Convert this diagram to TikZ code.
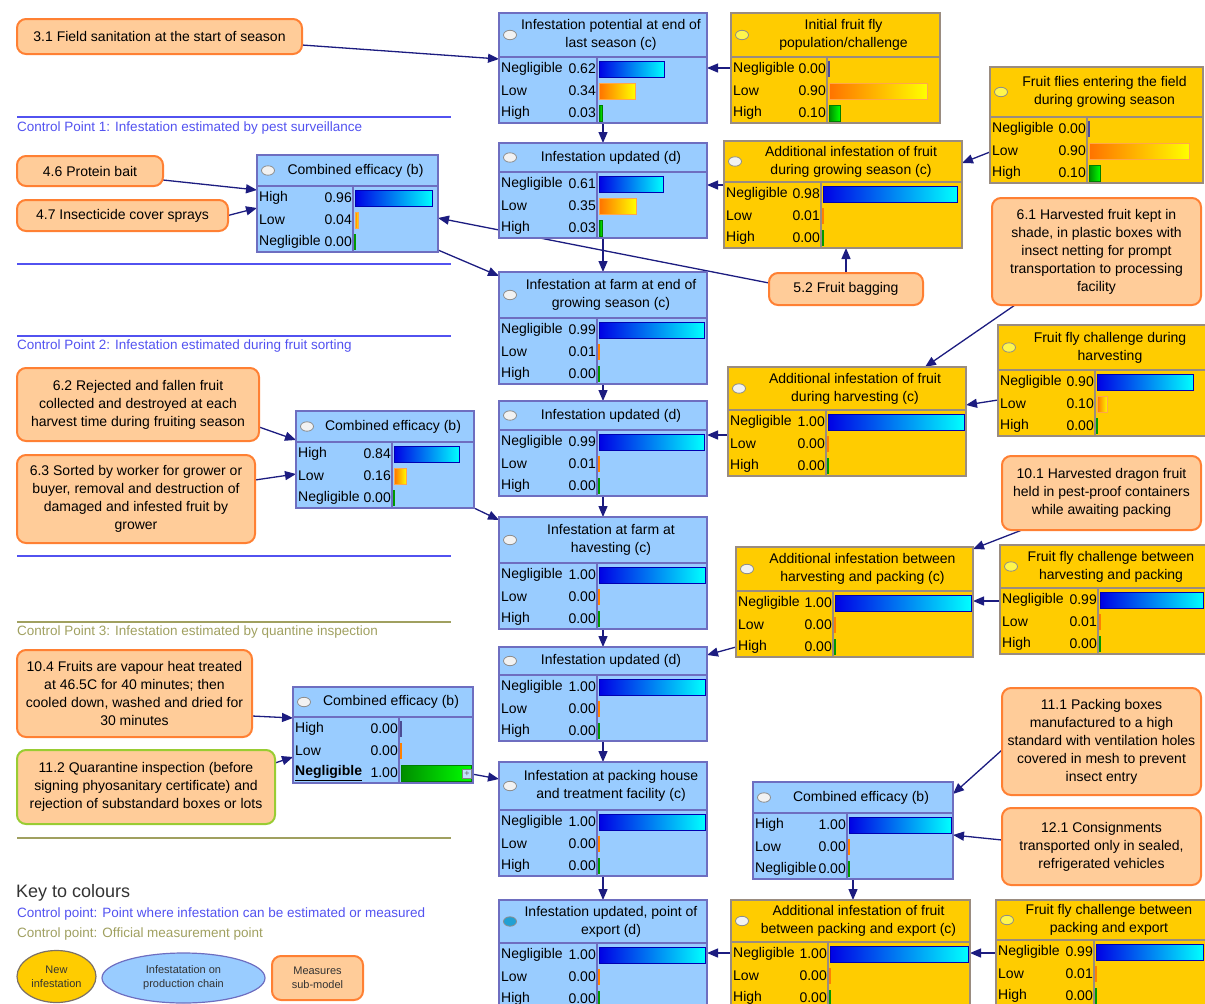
\documentclass[tikz,border=0pt]{standalone}
\usepackage{fontspec}
\setmainfont{Liberation Sans}
\usetikzlibrary{arrows.meta,calc,backgrounds}
\definecolor{bnblue}{HTML}{99CCFF}
\definecolor{bnyellow}{HTML}{FFCC00}
\definecolor{bnborderb}{HTML}{6E6EC0}
\definecolor{bnbordery}{HTML}{9A8C80}
\definecolor{mfill}{HTML}{FFCC99}
\definecolor{mborder}{HTML}{FF8033}
\definecolor{mgreen}{HTML}{99CC33}
\definecolor{arrowc}{HTML}{1C1C80}
\definecolor{cpblue}{HTML}{5252F0}
\definecolor{cpolive}{HTML}{A0A060}
\definecolor{keygray}{HTML}{333333}

\newcommand\bnbox[9]{% name, x, y, w, titleh, fill, border, circle, title
  \pgfmathsetmacro\bnH{#5+66}%
  \pgfmathsetmacro\cX{#2}%
  \pgfmathsetmacro\cR{#2+#4}%
  \pgfmathsetmacro\cTT{#3+#5}%
  \node[bnframe, draw=#7, fill=#6, minimum width=#4pt, minimum height=\bnH pt] (#1) at (#2,#3) {};
  \draw[bnsep, draw=#7] (\cX,\cTT) -- (\cR,\cTT);
  \draw[circ, fill=#8] (#2+11,#3+#5/2) ellipse [x radius=6.5pt, y radius=4.7pt];
  \node[ttext] at (#2+#4/2+8,#3+#5/2) {#9};
}
\newcommand\bntable[2]{% barx, border colour
  \pgfmathsetmacro\cB{#1}%
  \draw[bnsep, draw=#2] (\cB,\cTT) -- (\cB,\cTT+66);
}
\newcommand\bnrow[3]{% index, label, value
  \pgfmathsetmacro\bnry{\cTT+12+22*#1}%
  \node[rtext, anchor=west] at (\cX+2,\bnry) {#2};
  \node[rtext, anchor=east] at (\cB-1,\bnry) {#3};
  \pgfmathtruncatemacro\bnthin{#3<0.02}%
  \ifnum\bnthin=1
    \ifcase#1 \def\bnbc{thinblue}\or\def\bnbc{thinorange}\or\def\bnbc{thingreen}\fi
    \fill[\bnbc] (\cB+1,\bnry-8) rectangle (\cB+3,\bnry+8);
  \else
    \pgfmathsetmacro\bnlen{#3*(\cR-\cB-4)}%
    \ifcase#1 \def\bnbc{barblue}\or\def\bnbc{barorange}\or\def\bnbc{bargreen}\fi
    \path[\bnbc] (\cB+2,\bnry-8) rectangle (\cB+2+\bnlen,\bnry+8);
  \fi
}

\begin{document}
\begin{tikzpicture}[x=1pt,y=-1pt,
  bnframe/.style={draw, line width=1.3pt, inner sep=0pt, outer sep=0pt, anchor=north west},
  bnsep/.style={line width=1.1pt},
  circ/.style={draw=black!45, line width=0.8pt},
  ttext/.style={font=\fontsize{14}{18}\selectfont, align=center, inner sep=0pt},
  rtext/.style={font=\fontsize{14}{16}\selectfont, inner sep=0pt},
  barblue/.style={left color=blue!90!black, right color=cyan, draw=blue!70!black, line width=0.7pt},
  barorange/.style={left color=orange!90!red, right color=yellow, draw=orange!70, line width=0.7pt},
  bargreen/.style={left color=green!55!black, right color=green, draw=green!50!black, line width=0.5pt},
  thinblue/.style={fill=blue!40!black!70},
  thinorange/.style={fill=orange},
  thingreen/.style={fill=green!60!black},
  measure/.style={draw=mborder, fill=mfill, line width=2pt, rounded corners=9pt, align=center,
     font=\fontsize{14}{18}\selectfont, inner sep=0pt, outer sep=0pt, anchor=north west},
  arr/.style={draw=arrowc, line width=1.3pt, -{Triangle[length=11pt,width=9pt]}},
  cpline/.style={line width=1.5pt},
  cptext/.style={font=\fontsize{13.5}{16}\selectfont, anchor=west, inner sep=0pt},
]
\useasboundingbox (0,0) rectangle (1205,1004);
\clip (0,0) rectangle (1205,1004);

% ---------- separator lines and control point texts ----------
\draw[cpline, cpblue] (17,117) -- (451,117);
\node[cptext, text=cpblue] (cp1) at (17,128) {Control Point 1: Infestation estimated by pest surveillance};
\draw[cpline, cpblue] (17,264) -- (451,264);
\draw[cpline, cpblue] (17,336) -- (451,336);
\node[cptext, text=cpblue] (cp2) at (17,346) {Control Point 2: Infestation estimated during fruit sorting};
\draw[cpline, cpblue] (17,556) -- (451,556);
\draw[cpline, cpolive] (17,622) -- (451,622);
\node[cptext, text=cpolive] (cp3) at (17,632) {Control Point 3: Infestation estimated by quantine inspection};
\draw[cpline, cpolive] (17,838) -- (451,838);

% ---------- central chain ----------
\bnbox{A1}{499}{13}{208}{44}{bnblue}{bnborderb}{white!95!black}{Infestation potential at end of\\last season (c)}
\bntable{597}{bnborderb}
\bnrow{0}{Negligible}{0.62}\bnrow{1}{Low}{0.34}\bnrow{2}{High}{0.03}

\bnbox{A2}{499}{143}{208}{29}{bnblue}{bnborderb}{white!95!black}{Infestation updated (d)}
\bntable{597}{bnborderb}
\bnrow{0}{Negligible}{0.61}\bnrow{1}{Low}{0.35}\bnrow{2}{High}{0.03}

\bnbox{A3}{499}{272}{208}{46}{bnblue}{bnborderb}{white!95!black}{Infestation at farm at end of\\growing season (c)}
\bntable{597}{bnborderb}
\bnrow{0}{Negligible}{0.99}\bnrow{1}{Low}{0.01}\bnrow{2}{High}{0.00}

\bnbox{A4}{499}{401}{208}{29}{bnblue}{bnborderb}{white!95!black}{Infestation updated (d)}
\bntable{597}{bnborderb}
\bnrow{0}{Negligible}{0.99}\bnrow{1}{Low}{0.01}\bnrow{2}{High}{0.00}

\bnbox{A5}{499}{517}{208}{46}{bnblue}{bnborderb}{white!95!black}{Infestation at farm at\\havesting (c)}
\bntable{597}{bnborderb}
\bnrow{0}{Negligible}{1.00}\bnrow{1}{Low}{0.00}\bnrow{2}{High}{0.00}

\bnbox{A6}{499}{647}{208}{28}{bnblue}{bnborderb}{white!95!black}{Infestation updated (d)}
\bntable{597}{bnborderb}
\bnrow{0}{Negligible}{1.00}\bnrow{1}{Low}{0.00}\bnrow{2}{High}{0.00}

\bnbox{A7}{499}{762}{208}{48}{bnblue}{bnborderb}{white!95!black}{Infestation at packing house\\and treatment facility (c)}
\bntable{597}{bnborderb}
\bnrow{0}{Negligible}{1.00}\bnrow{1}{Low}{0.00}\bnrow{2}{High}{0.00}

\bnbox{A8}{499}{900}{208}{43}{bnblue}{bnborderb}{cyan!70!teal}{Infestation updated, point of\\export (d)}
\bntable{597}{bnborderb}
\bnrow{0}{Negligible}{1.00}\bnrow{1}{Low}{0.00}\bnrow{2}{High}{0.00}

% ---------- yellow nodes ----------
\bnbox{Y1}{731}{13}{209}{44}{bnyellow}{bnbordery}{yellow!70!white}{Initial fruit fly\\population/challenge}
\bntable{827}{bnbordery}
\bnrow{0}{Negligible}{0.00}\bnrow{1}{Low}{0.90}\bnrow{2}{High}{0.10}

\bnbox{Y2}{990}{67}{213}{50}{bnyellow}{bnbordery}{yellow!70!white}{Fruit flies entering the field\\during growing season}
\bntable{1087}{bnbordery}
\bnrow{0}{Negligible}{0.00}\bnrow{1}{Low}{0.90}\bnrow{2}{High}{0.10}

\bnbox{Y3}{724}{141}{238}{41}{bnyellow}{bnbordery}{white!95!black}{Additional infestation of fruit\\during growing season (c)}
\bntable{821}{bnbordery}
\bnrow{0}{Negligible}{0.98}\bnrow{1}{Low}{0.01}\bnrow{2}{High}{0.00}

\bnbox{Y4}{998}{325}{208}{45}{bnyellow}{bnbordery}{yellow!70!white}{Fruit fly challenge during\\harvesting}
\bntable{1095}{bnbordery}
\bnrow{0}{Negligible}{0.90}\bnrow{1}{Low}{0.10}\bnrow{2}{High}{0.00}

\bnbox{Y5}{728}{367}{238}{43}{bnyellow}{bnbordery}{white!95!black}{Additional infestation of fruit\\during harvesting (c)}
\bntable{826}{bnbordery}
\bnrow{0}{Negligible}{1.00}\bnrow{1}{Low}{0.00}\bnrow{2}{High}{0.00}

\bnbox{Y6}{1000}{545}{206}{43}{bnyellow}{bnbordery}{yellow!70!white}{Fruit fly challenge between\\harvesting and packing}
\bntable{1098}{bnbordery}
\bnrow{0}{Negligible}{0.99}\bnrow{1}{Low}{0.01}\bnrow{2}{High}{0.00}

\bnbox{Y7}{736}{547}{237}{44}{bnyellow}{bnbordery}{white!95!black}{Additional infestation between\\harvesting and packing (c)}
\bntable{833}{bnbordery}
\bnrow{0}{Negligible}{1.00}\bnrow{1}{Low}{0.00}\bnrow{2}{High}{0.00}

\bnbox{Y8}{731}{900}{239}{42}{bnyellow}{bnbordery}{white!95!black}{Additional infestation of fruit\\between packing and export (c)}
\bntable{828}{bnbordery}
\bnrow{0}{Negligible}{1.00}\bnrow{1}{Low}{0.00}\bnrow{2}{High}{0.00}

\bnbox{Y9}{996}{900}{210}{40}{bnyellow}{bnbordery}{yellow!70!white}{Fruit fly challenge between\\packing and export}
\bntable{1094}{bnbordery}
\bnrow{0}{Negligible}{0.99}\bnrow{1}{Low}{0.01}\bnrow{2}{High}{0.00}

% ---------- combined efficacy nodes ----------
\bnbox{C1}{257}{155}{181}{31}{bnblue}{bnborderb}{white!95!black}{Combined efficacy (b)}
\bntable{353}{bnborderb}
\bnrow{0}{High}{0.96}\bnrow{1}{Low}{0.04}\bnrow{2}{Negligible}{0.00}

\bnbox{C2}{296}{411}{178}{31}{bnblue}{bnborderb}{white!95!black}{Combined efficacy (b)}
\bntable{392}{bnborderb}
\bnrow{0}{High}{0.84}\bnrow{1}{Low}{0.16}\bnrow{2}{Negligible}{0.00}

\bnbox{C3}{293}{687}{180}{30}{bnblue}{bnborderb}{white!95!black}{Combined efficacy (b)}
\bntable{399}{bnborderb}
\bnrow{0}{High}{0.00}\bnrow{1}{Low}{0.00}\bnrow{2}{\textbf{\underline{Negligible}}}{1.00}
\node[draw=black!50, fill=bnblue!60!white, line width=0.6pt, minimum size=9pt, inner sep=0pt,
  font=\fontsize{9}{9}\selectfont, text=black!60] (C3plus) at (467,774) {+};

\bnbox{C4}{753}{782}{200}{31}{bnblue}{bnborderb}{white!95!black}{Combined efficacy (b)}
\bntable{847}{bnborderb}
\bnrow{0}{High}{1.00}\bnrow{1}{Low}{0.00}\bnrow{2}{Negligible}{0.00}

% ---------- measures ----------
\node[measure, minimum width=285pt, minimum height=35pt] (M31) at (17,19) {3.1 Field sanitation at the start of season};
\node[measure, minimum width=146pt, minimum height=30pt] (M46) at (17,156) {4.6 Protein bait};
\node[measure, minimum width=211pt, minimum height=31pt] (M47) at (17,200) {4.7 Insecticide cover sprays};
\node[measure, minimum width=154pt, minimum height=32pt] (M52) at (769,273) {5.2 Fruit bagging};
\node[measure, minimum width=209pt, minimum height=107pt] (M61) at (992,198) {6.1 Harvested fruit kept in\\shade, in plastic boxes with\\insect netting for prompt\\transportation to processing\\facility};
\node[measure, minimum width=242pt, minimum height=73pt] (M62) at (17,368) {6.2 Rejected and fallen fruit\\collected and destroyed at each\\harvest time during fruiting season};
\node[measure, minimum width=238pt, minimum height=88pt] (M63) at (17,455) {6.3 Sorted by worker for grower or\\buyer, removal and destruction of\\damaged and infested fruit by\\grower};
\node[measure, minimum width=199pt, minimum height=74pt] (M101) at (1002,456) {10.1 Harvested dragon fruit\\held in pest-proof containers\\while awaiting packing};
\node[measure, minimum width=235pt, minimum height=87pt] (M104) at (17,650) {10.4 Fruits are vapour heat treated\\at 46.5C for 40 minutes; then\\cooled down, washed and dried for\\30 minutes};
\node[measure, draw=mgreen, minimum width=258pt, minimum height=74pt] (M112) at (17,750) {11.2 Quarantine inspection (before\\signing phyosanitary certificate) and\\rejection of substandard boxes or lots};
\node[measure, minimum width=199pt, minimum height=107pt] (M111) at (1002,688) {11.1 Packing boxes\\manufactured to a high\\standard with ventilation holes\\covered in mesh to prevent\\insect entry};
\node[measure, minimum width=199pt, minimum height=77pt] (M121) at (1002,808) {12.1 Consignments\\transported only in sealed,\\refrigerated vehicles};

% ---------- key ----------
\node[font=\fontsize{18}{20}\selectfont, text=keygray, anchor=west, inner sep=0pt] (keyt) at (16,893) {Key to colours};
\node[cptext, text=cpblue] (key1) at (17,914) {Control point: Point where infestation can be estimated or measured};
\node[cptext, text=cpolive] (key2) at (17,934) {Control point: Official measurement point};
\draw[draw=bnbordery!80!black, fill=bnyellow, line width=1.2pt] (56.5,976.5) ellipse [x radius=39.5pt, y radius=26pt];
\node[font=\fontsize{11}{14}\selectfont, align=center, inner sep=0pt, text=keygray] (keyY) at (56.5,976.5) {New\\infestation};
\draw[draw=bnborderb, fill=bnblue, line width=1.2pt] (183.5,978) ellipse [x radius=81.5pt, y radius=25pt];
\node[font=\fontsize{11}{14}\selectfont, align=center, inner sep=0pt, text=keygray] (keyB) at (183.5,978) {Infestatation on\\production chain};
\node[measure, minimum width=91pt, minimum height=44pt, font=\fontsize{11}{14}\selectfont, text=keygray] (keyM) at (272,956) {Measures\\sub-model};

% ---------- connectors ----------
\begin{pgfonlayer}{background}
\draw[arr] ($(M31.south east)+(0,-9)$) -- ($(A1.north west)+(0,46)$);
\draw[arr] ($(Y1.north west)+(0,55)$) -- ($(A1.north east)+(0,55)$);
\draw[arr] (A1.south) -- (A2.north);
\draw[arr] ($(Y2.north west)+(0,85)$) -- ($(Y3.north east)+(0,22)$);
\draw[arr] ($(Y3.north west)+(0,44)$) -- ($(A2.north east)+(0,42)$);
\draw[arr] (M52.north) -- (M52.north |- Y3.south);
\draw[arr] ($(M52.west)+(0,-6)$) -- ($(C1.north east)+(0,63)$);
\draw[arr] ($(C1.south east)+(0,-2)$) -- ($(A3.north west)+(0,4)$);
\draw[arr] ($(M46.east)+(0,9)$) -- ($(C1.north west)+(0,35)$);
\draw[arr] (M47.east) -- ($(C1.north west)+(0,53)$);
\draw[arr] (A2.south) -- (A3.north);
\draw[arr] (A3.south) -- (A4.north);
\draw[arr] ($(M61.south west)+(23,0)$) -- ($(Y5.north east)+(-41,0)$);
\draw[arr] ($(Y4.north west)+(0,75)$) -- ($(Y5.north east)+(0,38)$);
\draw[arr] ($(Y5.north west)+(0,68)$) -- ($(A4.north east)+(0,34)$);
\draw[arr] ($(M62.south east)+(0,-14)$) -- ($(C2.north west)+(0,29)$);
\draw[arr] ($(M63.north east)+(0,25)$) -- ($(C2.north west)+(0,63)$);
\draw[arr] (C2.south east) -- ($(A5.north west)+(0,3)$);
\draw[arr] (A4.south) -- (A5.north);
\draw[arr] (A5.south) -- (A6.north);
\draw[arr] ($(M101.south west)+(20,0)$) -- ($(Y7.north east)+(0,2)$);
\draw[arr] ($(Y6.north west)+(0,56)$) -- ($(Y7.north east)+(0,54)$);
\draw[arr] ($(Y7.north west)+(0,100)$) -- ($(A6.north east)+(0,8)$);
\draw[arr] (A6.south) -- (A7.north);
\draw[arr] ($(M104.north east)+(0,66)$) -- ($(C3.north west)+(0,31)$);
\draw[arr] ($(M112.north east)+(0,13)$) -- ($(C3.north west)+(0,70)$);
\draw[arr] (C3plus.east) -- ($(A7.north west)+(0,17)$);
\draw[arr] ($(M111.north west)+(0,62)$) -- ($(C4.north east)+(0,12)$);
\draw[arr] ($(M121.north west)+(0,32)$) -- ($(C4.north east)+(0,53)$);
\draw[arr] (C4.south) -- (C4.south |- Y8.north);
\draw[arr] ($(Y9.north west)+(0,53)$) -- ($(Y8.north east)+(0,53)$);
\draw[arr] ($(Y8.north west)+(0,53)$) -- ($(A8.north east)+(0,53)$);
\draw[arr] (A7.south) -- (A8.north);
\end{pgfonlayer}
\end{tikzpicture}
\end{document}
